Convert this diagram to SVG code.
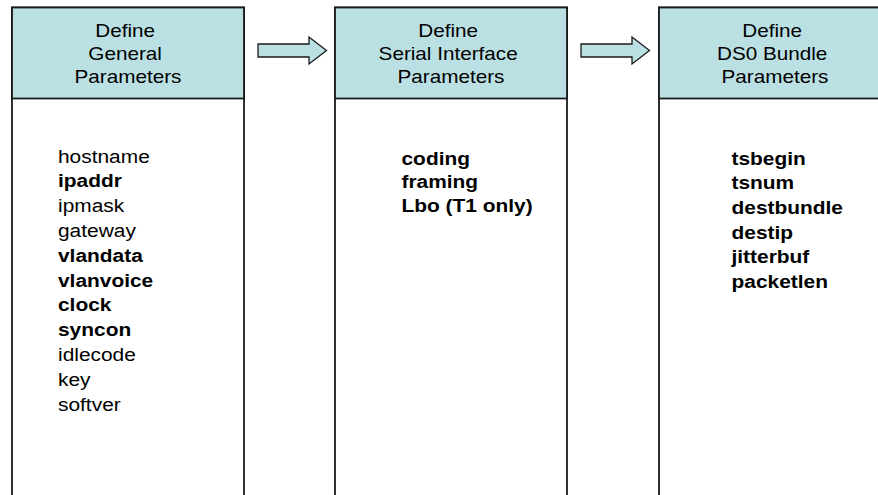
<svg xmlns="http://www.w3.org/2000/svg" width="878" height="495" viewBox="0 0 878 495">
  <style>
    .body { fill: #ffffff; stroke: #1a1a1a; stroke-width: 1.8; }
    .head { fill: #bbe0e3; stroke: #1a1a1a; stroke-width: 1.8; }
    .arrow { fill: #bbe0e3; stroke: #1a1a1a; stroke-width: 1.3; stroke-linejoin: miter; }
    .title { font-family: "Liberation Sans", Arial, sans-serif; font-size: 18px; fill: #000; text-anchor: middle; }
    .item { font-family: "Liberation Sans", Arial, sans-serif; font-size: 19px; fill: #000; }
    .b { font-weight: bold; }
  </style>

  <rect width="878" height="495" fill="#ffffff"/>

  <!-- Step 1: general parameters -->
  <g id="general">
    <rect class="body" x="12" y="7.5" width="232" height="500"/>
    <rect class="head" x="12" y="7.5" width="232" height="91"/>
    <text class="title" transform="translate(128 0) scale(1.15 1)">
      <tspan x="0" y="37">Define</tspan>
      <tspan x="0" y="60">General</tspan>
      <tspan x="0" y="83">Parameters</tspan>
    </text>
    <text class="item" transform="translate(58 0) scale(1.1 1)">
      <tspan x="0" y="162.7">hostname</tspan>
      <tspan x="0" y="187.5" class="b">ipaddr</tspan>
      <tspan x="0" y="212.3">ipmask</tspan>
      <tspan x="0" y="237.1">gateway</tspan>
      <tspan x="0" y="261.9" class="b">vlandata</tspan>
      <tspan x="0" y="286.7" class="b">vlanvoice</tspan>
      <tspan x="0" y="311.5" class="b">clock</tspan>
      <tspan x="0" y="336.3" class="b">syncon</tspan>
      <tspan x="0" y="361.1">idlecode</tspan>
      <tspan x="0" y="385.9">key</tspan>
      <tspan x="0" y="410.7">softver</tspan>
    </text>
  </g>

  <!-- Step 2: serial interface parameters -->
  <g id="serial">
    <rect class="body" x="335" y="7.5" width="232" height="500"/>
    <rect class="head" x="335" y="7.5" width="232" height="91"/>
    <text class="title" transform="translate(451 0) scale(1.15 1)">
      <tspan x="0" y="37">Define</tspan>
      <tspan x="0" y="60">Serial Interface</tspan>
      <tspan x="0" y="83">Parameters</tspan>
    </text>
    <text class="item b" transform="translate(401.5 0) scale(1.1 1)">
      <tspan x="0" y="164.7">coding</tspan>
      <tspan x="0" y="188.3">framing</tspan>
      <tspan x="0" y="211.9">Lbo (T1 only)</tspan>
    </text>
  </g>

  <!-- Step 3: DS0 bundle parameters -->
  <g id="bundle">
    <rect class="body" x="659" y="7.5" width="232" height="500"/>
    <rect class="head" x="659" y="7.5" width="232" height="91"/>
    <text class="title" transform="translate(775 0) scale(1.15 1)">
      <tspan x="0" y="37">Define</tspan>
      <tspan x="0" y="60">DS0 Bundle</tspan>
      <tspan x="0" y="83">Parameters</tspan>
    </text>
    <text class="item b" transform="translate(731.5 0) scale(1.1 1)">
      <tspan x="0" y="164.7">tsbegin</tspan>
      <tspan x="0" y="189.4">tsnum</tspan>
      <tspan x="0" y="214.1">destbundle</tspan>
      <tspan x="0" y="238.8">destip</tspan>
      <tspan x="0" y="263.5">jitterbuf</tspan>
      <tspan x="0" y="288.2">packetlen</tspan>
    </text>
  </g>

  <!-- Flow arrows between steps -->
  <g id="connectors">
    <path class="arrow" d="M258,44 H309 V37 L326.5,50.5 L309,64 V57 H258 Z"/>
    <path class="arrow" d="M581,44 H632 V37 L649.5,50.5 L632,64 V57 H581 Z"/>
  </g>
</svg>
